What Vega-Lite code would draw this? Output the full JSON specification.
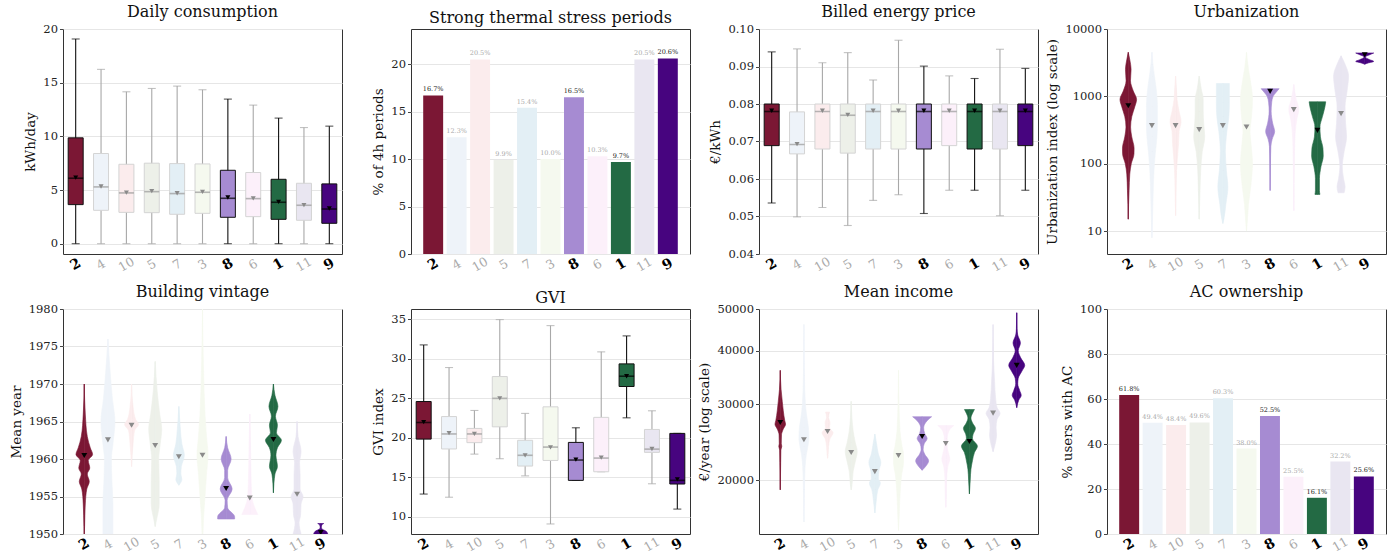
{
  "$schema": "https://vega.github.io/schema/vega-lite/v6.json",
  "autosize": {"type": "none"},
  "padding": {"left": 63, "top": 29, "right": 1332, "bottom": 528},
  "background": "white",
  "columns": 4,
  "spacing": {"row": 55, "column": 69},
  "bounds": "flush",
  "config": {
    "font": "DejaVu Serif",
    "view": {"stroke": "#333333", "strokeWidth": 1},
    "axis": {"labelFont": "DejaVu Serif", "titleFont": "DejaVu Serif", "labelFontSize": 11.5, "titleFontSize": 13.5, "titleFontWeight": "normal", "labelColor": "#222222", "titleColor": "#111111", "gridColor": "#e6e6e6", "tickColor": "#444444", "tickSize": 3.5, "domain": false, "labelPadding": 2, "titlePadding": 5},
    "axisX": {"grid": false, "ticks": false, "labelAngle": -30, "labelAlign": "center", "labelBaseline": "middle", "labelPadding": 10, "title": null},
    "axisY": {"grid": true},
    "title": {"fontSize": 16, "fontWeight": "normal", "font": "DejaVu Serif", "color": "#111111", "offset": 3, "baseline": "bottom"}
  },
  "datasets": {
    "daily": [
      {"cat": "2", "lo": 0, "q1": 3.64, "med": 6.1, "q3": 9.86, "hi": 19.07, "mean": 6.15},
      {"cat": "4", "lo": 0, "q1": 3.11, "med": 5.29, "q3": 8.4, "hi": 16.24, "mean": 5.33},
      {"cat": "10", "lo": 0, "q1": 2.92, "med": 4.73, "q3": 7.4, "hi": 14.15, "mean": 4.75},
      {"cat": "5", "lo": 0, "q1": 2.89, "med": 4.85, "q3": 7.5, "hi": 14.46, "mean": 4.9},
      {"cat": "7", "lo": 0, "q1": 2.74, "med": 4.67, "q3": 7.46, "hi": 14.68, "mean": 4.7},
      {"cat": "3", "lo": 0, "q1": 2.83, "med": 4.79, "q3": 7.43, "hi": 14.34, "mean": 4.82},
      {"cat": "8", "lo": 0, "q1": 2.46, "med": 4.23, "q3": 6.84, "hi": 13.47, "mean": 4.3},
      {"cat": "6", "lo": 0, "q1": 2.52, "med": 4.2, "q3": 6.63, "hi": 12.91, "mean": 4.22},
      {"cat": "1", "lo": 0, "q1": 2.27, "med": 3.86, "q3": 6.0, "hi": 11.7, "mean": 3.9},
      {"cat": "11", "lo": 0, "q1": 2.18, "med": 3.58, "q3": 5.63, "hi": 10.82, "mean": 3.6},
      {"cat": "9", "lo": 0, "q1": 1.9, "med": 3.23, "q3": 5.57, "hi": 10.95, "mean": 3.28}
    ],
    "price": [
      {"cat": "2", "lo": 0.0536, "q1": 0.0689, "med": 0.078, "q3": 0.08, "hi": 0.0939, "mean": 0.0782},
      {"cat": "4", "lo": 0.0499, "q1": 0.0667, "med": 0.0692, "q3": 0.0779, "hi": 0.0947, "mean": 0.0693},
      {"cat": "10", "lo": 0.0524, "q1": 0.068, "med": 0.078, "q3": 0.08, "hi": 0.091, "mean": 0.0782},
      {"cat": "5", "lo": 0.0476, "q1": 0.0669, "med": 0.077, "q3": 0.08, "hi": 0.0937, "mean": 0.0771},
      {"cat": "7", "lo": 0.0543, "q1": 0.068, "med": 0.078, "q3": 0.08, "hi": 0.0864, "mean": 0.0782},
      {"cat": "3", "lo": 0.0558, "q1": 0.068, "med": 0.078, "q3": 0.08, "hi": 0.097, "mean": 0.0782},
      {"cat": "8", "lo": 0.0508, "q1": 0.068, "med": 0.078, "q3": 0.08, "hi": 0.0901, "mean": 0.0782},
      {"cat": "6", "lo": 0.057, "q1": 0.0689, "med": 0.078, "q3": 0.08, "hi": 0.0875, "mean": 0.0782},
      {"cat": "1", "lo": 0.057, "q1": 0.068, "med": 0.078, "q3": 0.08, "hi": 0.0868, "mean": 0.0782},
      {"cat": "11", "lo": 0.0502, "q1": 0.068, "med": 0.078, "q3": 0.08, "hi": 0.0946, "mean": 0.0782},
      {"cat": "9", "lo": 0.057, "q1": 0.0689, "med": 0.078, "q3": 0.08, "hi": 0.0895, "mean": 0.0782}
    ],
    "gvi": [
      {"cat": "2", "lo": 12.9, "q1": 19.85, "med": 21.95, "q3": 24.6, "hi": 31.76, "mean": 22.0},
      {"cat": "4", "lo": 12.5, "q1": 18.6, "med": 20.5, "q3": 22.7, "hi": 28.9, "mean": 20.6},
      {"cat": "10", "lo": 17.95, "q1": 19.4, "med": 20.5, "q3": 21.2, "hi": 23.47, "mean": 20.5},
      {"cat": "5", "lo": 17.37, "q1": 21.4, "med": 25.0, "q3": 27.76, "hi": 34.96, "mean": 25.0},
      {"cat": "7", "lo": 15.2, "q1": 16.44, "med": 17.8, "q3": 19.7, "hi": 23.1, "mean": 17.8},
      {"cat": "3", "lo": 9.12, "q1": 17.15, "med": 18.84, "q3": 23.93, "hi": 34.2, "mean": 18.8},
      {"cat": "8", "lo": 14.63, "q1": 14.63, "med": 17.2, "q3": 19.43, "hi": 21.28, "mean": 17.25},
      {"cat": "6", "lo": 15.72, "q1": 15.72, "med": 17.45, "q3": 22.6, "hi": 30.88, "mean": 17.5},
      {"cat": "1", "lo": 22.54, "q1": 26.5, "med": 27.8, "q3": 29.36, "hi": 32.9, "mean": 27.8},
      {"cat": "11", "lo": 14.2, "q1": 18.17, "med": 18.58, "q3": 21.07, "hi": 23.43, "mean": 18.6},
      {"cat": "9", "lo": 11.0, "q1": 14.17, "med": 14.63, "q3": 20.57, "hi": 20.57, "mean": 14.75}
    ],
    "stress": [
      {"cat": "2", "v": 16.7}, {"cat": "4", "v": 12.3}, {"cat": "10", "v": 20.5}, {"cat": "5", "v": 9.9},
      {"cat": "7", "v": 15.4}, {"cat": "3", "v": 10.0}, {"cat": "8", "v": 16.5}, {"cat": "6", "v": 10.3},
      {"cat": "1", "v": 9.7}, {"cat": "11", "v": 20.5}, {"cat": "9", "v": 20.6}
    ],
    "ac": [
      {"cat": "2", "v": 61.8}, {"cat": "4", "v": 49.4}, {"cat": "10", "v": 48.4}, {"cat": "5", "v": 49.6},
      {"cat": "7", "v": 60.3}, {"cat": "3", "v": 38.0}, {"cat": "8", "v": 52.5}, {"cat": "6", "v": 25.5},
      {"cat": "1", "v": 16.1}, {"cat": "11", "v": 32.2}, {"cat": "9", "v": 25.6}
    ],
    "urb": [
      {"cat": "2", "y": 4500, "d": 0}, {"cat": "2", "y": 3500, "d": 1.5}, {"cat": "2", "y": 2500, "d": 2.8}, {"cat": "2", "y": 1700, "d": 2.2}, {"cat": "2", "y": 1200, "d": 5}, {"cat": "2", "y": 900, "d": 8.3}, {"cat": "2", "y": 700, "d": 6.5}, {"cat": "2", "y": 500, "d": 3.5}, {"cat": "2", "y": 350, "d": 2.3}, {"cat": "2", "y": 250, "d": 3.5}, {"cat": "2", "y": 170, "d": 5.8}, {"cat": "2", "y": 140, "d": 5.7}, {"cat": "2", "y": 100, "d": 3}, {"cat": "2", "y": 70, "d": 1.5}, {"cat": "2", "y": 40, "d": 0.8}, {"cat": "2", "y": 25, "d": 0.3}, {"cat": "2", "y": 15, "d": 0},
      {"cat": "4", "y": 4500, "d": 0}, {"cat": "4", "y": 3000, "d": 1}, {"cat": "4", "y": 2000, "d": 2.5}, {"cat": "4", "y": 1200, "d": 4.5}, {"cat": "4", "y": 700, "d": 5.5}, {"cat": "4", "y": 400, "d": 5.5}, {"cat": "4", "y": 250, "d": 5}, {"cat": "4", "y": 150, "d": 3.5}, {"cat": "4", "y": 100, "d": 2.5}, {"cat": "4", "y": 50, "d": 1.5}, {"cat": "4", "y": 20, "d": 0.8}, {"cat": "4", "y": 8, "d": 0},
      {"cat": "10", "y": 2000, "d": 0}, {"cat": "10", "y": 1200, "d": 1}, {"cat": "10", "y": 900, "d": 1.5}, {"cat": "10", "y": 600, "d": 3.5}, {"cat": "10", "y": 420, "d": 5.5}, {"cat": "10", "y": 300, "d": 3.5}, {"cat": "10", "y": 200, "d": 3}, {"cat": "10", "y": 130, "d": 2}, {"cat": "10", "y": 80, "d": 1}, {"cat": "10", "y": 40, "d": 0.5}, {"cat": "10", "y": 17, "d": 0},
      {"cat": "5", "y": 2000, "d": 0}, {"cat": "5", "y": 1300, "d": 2}, {"cat": "5", "y": 900, "d": 4}, {"cat": "5", "y": 600, "d": 4}, {"cat": "5", "y": 400, "d": 4.5}, {"cat": "5", "y": 250, "d": 5.5}, {"cat": "5", "y": 150, "d": 3}, {"cat": "5", "y": 80, "d": 1.5}, {"cat": "5", "y": 40, "d": 0.8}, {"cat": "5", "y": 15, "d": 0},
      {"cat": "7", "y": 1550, "d": 6.5}, {"cat": "7", "y": 800, "d": 6.5}, {"cat": "7", "y": 500, "d": 6}, {"cat": "7", "y": 300, "d": 4}, {"cat": "7", "y": 150, "d": 2.5}, {"cat": "7", "y": 80, "d": 3.5}, {"cat": "7", "y": 45, "d": 5}, {"cat": "7", "y": 25, "d": 3}, {"cat": "7", "y": 15, "d": 1}, {"cat": "7", "y": 13, "d": 0},
      {"cat": "3", "y": 4500, "d": 0}, {"cat": "3", "y": 2500, "d": 2}, {"cat": "3", "y": 1500, "d": 4.5}, {"cat": "3", "y": 900, "d": 6}, {"cat": "3", "y": 500, "d": 5}, {"cat": "3", "y": 300, "d": 3.5}, {"cat": "3", "y": 200, "d": 4.5}, {"cat": "3", "y": 100, "d": 6}, {"cat": "3", "y": 50, "d": 4.5}, {"cat": "3", "y": 25, "d": 2}, {"cat": "3", "y": 12, "d": 0.5}, {"cat": "3", "y": 10, "d": 0},
      {"cat": "8", "y": 1300, "d": 9}, {"cat": "8", "y": 1150, "d": 6}, {"cat": "8", "y": 1000, "d": 3}, {"cat": "8", "y": 800, "d": 1.5}, {"cat": "8", "y": 600, "d": 1}, {"cat": "8", "y": 400, "d": 2.5}, {"cat": "8", "y": 300, "d": 4.5}, {"cat": "8", "y": 230, "d": 2}, {"cat": "8", "y": 180, "d": 0.7}, {"cat": "8", "y": 100, "d": 0.3}, {"cat": "8", "y": 40, "d": 0},
      {"cat": "6", "y": 1500, "d": 0}, {"cat": "6", "y": 900, "d": 2.5}, {"cat": "6", "y": 650, "d": 5}, {"cat": "6", "y": 450, "d": 3}, {"cat": "6", "y": 300, "d": 1.5}, {"cat": "6", "y": 150, "d": 0.7}, {"cat": "6", "y": 50, "d": 0.3}, {"cat": "6", "y": 20, "d": 0},
      {"cat": "1", "y": 830, "d": 8.3}, {"cat": "1", "y": 700, "d": 7.5}, {"cat": "1", "y": 500, "d": 5}, {"cat": "1", "y": 350, "d": 2.5}, {"cat": "1", "y": 250, "d": 3}, {"cat": "1", "y": 170, "d": 5.5}, {"cat": "1", "y": 130, "d": 5.8}, {"cat": "1", "y": 90, "d": 3.5}, {"cat": "1", "y": 60, "d": 2}, {"cat": "1", "y": 40, "d": 2}, {"cat": "1", "y": 35, "d": 2.5},
      {"cat": "11", "y": 4000, "d": 0}, {"cat": "11", "y": 3000, "d": 4}, {"cat": "11", "y": 2000, "d": 7.5}, {"cat": "11", "y": 1200, "d": 6}, {"cat": "11", "y": 700, "d": 4}, {"cat": "11", "y": 400, "d": 4.5}, {"cat": "11", "y": 250, "d": 5.5}, {"cat": "11", "y": 150, "d": 3}, {"cat": "11", "y": 90, "d": 1.2}, {"cat": "11", "y": 60, "d": 2.5}, {"cat": "11", "y": 45, "d": 4}, {"cat": "11", "y": 37, "d": 3},
      {"cat": "9", "y": 4400, "d": 9}, {"cat": "9", "y": 4150, "d": 5}, {"cat": "9", "y": 3850, "d": 0.5}, {"cat": "9", "y": 3500, "d": 5}, {"cat": "9", "y": 3300, "d": 9}, {"cat": "9", "y": 3150, "d": 4}, {"cat": "9", "y": 3000, "d": 0}
    ],
    "urb_mean": [
      {"cat": "2", "m": 726}, {"cat": "4", "m": 367}, {"cat": "10", "m": 367}, {"cat": "5", "m": 320}, {"cat": "7", "m": 367}, {"cat": "3", "m": 351},
      {"cat": "8", "m": 1186}, {"cat": "6", "m": 634}, {"cat": "1", "m": 313}, {"cat": "11", "m": 553}, {"cat": "9", "m": 4150}
    ],
    "vint": [
      {"cat": "2", "y": 1970, "d": 0}, {"cat": "2", "y": 1966, "d": 1}, {"cat": "2", "y": 1963, "d": 3}, {"cat": "2", "y": 1961.5, "d": 6}, {"cat": "2", "y": 1960.6, "d": 8.3}, {"cat": "2", "y": 1959.8, "d": 4}, {"cat": "2", "y": 1958.8, "d": 5.5}, {"cat": "2", "y": 1958, "d": 3}, {"cat": "2", "y": 1957, "d": 5}, {"cat": "2", "y": 1956, "d": 2.5}, {"cat": "2", "y": 1954, "d": 1}, {"cat": "2", "y": 1951, "d": 0.3}, {"cat": "2", "y": 1950, "d": 0},
      {"cat": "4", "y": 1976, "d": 0}, {"cat": "4", "y": 1972, "d": 2}, {"cat": "4", "y": 1968, "d": 4.5}, {"cat": "4", "y": 1965, "d": 7}, {"cat": "4", "y": 1962, "d": 5}, {"cat": "4", "y": 1960, "d": 3.5}, {"cat": "4", "y": 1957, "d": 4}, {"cat": "4", "y": 1954, "d": 5}, {"cat": "4", "y": 1950, "d": 5},
      {"cat": "10", "y": 1970, "d": 0}, {"cat": "10", "y": 1967, "d": 1.5}, {"cat": "10", "y": 1965.3, "d": 4}, {"cat": "10", "y": 1964.6, "d": 7}, {"cat": "10", "y": 1963.8, "d": 3}, {"cat": "10", "y": 1962, "d": 1.5}, {"cat": "10", "y": 1959, "d": 0},
      {"cat": "5", "y": 1973, "d": 0}, {"cat": "5", "y": 1969, "d": 2}, {"cat": "5", "y": 1966, "d": 4.5}, {"cat": "5", "y": 1964, "d": 6.5}, {"cat": "5", "y": 1962, "d": 5}, {"cat": "5", "y": 1960, "d": 3.5}, {"cat": "5", "y": 1957, "d": 4}, {"cat": "5", "y": 1954, "d": 4}, {"cat": "5", "y": 1952, "d": 1.5}, {"cat": "5", "y": 1951, "d": 0},
      {"cat": "7", "y": 1967, "d": 0}, {"cat": "7", "y": 1964, "d": 1.5}, {"cat": "7", "y": 1962, "d": 3}, {"cat": "7", "y": 1960.5, "d": 5.5}, {"cat": "7", "y": 1959, "d": 2.5}, {"cat": "7", "y": 1958, "d": 2}, {"cat": "7", "y": 1957.3, "d": 3}, {"cat": "7", "y": 1956.5, "d": 0},
      {"cat": "3", "y": 1980, "d": 0}, {"cat": "3", "y": 1972, "d": 1}, {"cat": "3", "y": 1966, "d": 2.5}, {"cat": "3", "y": 1963, "d": 4}, {"cat": "3", "y": 1960.5, "d": 5.5}, {"cat": "3", "y": 1958, "d": 4}, {"cat": "3", "y": 1955, "d": 2.5}, {"cat": "3", "y": 1952, "d": 1}, {"cat": "3", "y": 1950, "d": 0.5},
      {"cat": "8", "y": 1963, "d": 0}, {"cat": "8", "y": 1961.5, "d": 1.5}, {"cat": "8", "y": 1960, "d": 5}, {"cat": "8", "y": 1958.5, "d": 1.5}, {"cat": "8", "y": 1957.5, "d": 1.5}, {"cat": "8", "y": 1956, "d": 6}, {"cat": "8", "y": 1954.5, "d": 1}, {"cat": "8", "y": 1953.5, "d": 1.5}, {"cat": "8", "y": 1952.3, "d": 8.5}, {"cat": "8", "y": 1952, "d": 8.5},
      {"cat": "6", "y": 1966, "d": 0}, {"cat": "6", "y": 1962, "d": 0.7}, {"cat": "6", "y": 1958, "d": 1.2}, {"cat": "6", "y": 1955, "d": 2}, {"cat": "6", "y": 1953.5, "d": 5}, {"cat": "6", "y": 1952.6, "d": 8},
      {"cat": "1", "y": 1970, "d": 0}, {"cat": "1", "y": 1968.5, "d": 1.5}, {"cat": "1", "y": 1967, "d": 4.5}, {"cat": "1", "y": 1965.7, "d": 2}, {"cat": "1", "y": 1964.5, "d": 4}, {"cat": "1", "y": 1963.5, "d": 3}, {"cat": "1", "y": 1962.5, "d": 8}, {"cat": "1", "y": 1961.5, "d": 4}, {"cat": "1", "y": 1960.5, "d": 2.5}, {"cat": "1", "y": 1959, "d": 4}, {"cat": "1", "y": 1958, "d": 1.5}, {"cat": "1", "y": 1955.5, "d": 0},
      {"cat": "11", "y": 1965, "d": 0}, {"cat": "11", "y": 1963, "d": 1}, {"cat": "11", "y": 1961, "d": 4}, {"cat": "11", "y": 1959.5, "d": 2.5}, {"cat": "11", "y": 1958, "d": 3}, {"cat": "11", "y": 1956, "d": 3}, {"cat": "11", "y": 1955, "d": 6}, {"cat": "11", "y": 1954, "d": 4}, {"cat": "11", "y": 1952.5, "d": 3.5}, {"cat": "11", "y": 1951.5, "d": 2}, {"cat": "11", "y": 1950, "d": 4},
      {"cat": "9", "y": 1951.4, "d": 3}, {"cat": "9", "y": 1951.2, "d": 1}, {"cat": "9", "y": 1950.8, "d": 0.5}, {"cat": "9", "y": 1950.3, "d": 6}, {"cat": "9", "y": 1950, "d": 7}
    ],
    "vint_mean": [
      {"cat": "2", "m": 1960.46}, {"cat": "4", "m": 1962.55}, {"cat": "10", "m": 1964.5}, {"cat": "5", "m": 1961.8}, {"cat": "7", "m": 1960.3}, {"cat": "3", "m": 1960.5},
      {"cat": "8", "m": 1956.06}, {"cat": "6", "m": 1954.8}, {"cat": "1", "m": 1962.6}, {"cat": "11", "m": 1955.3}, {"cat": "9", "m": 1950.2}
    ],
    "inc": [
      {"cat": "2", "y": 36000, "d": 0}, {"cat": "2", "y": 32500, "d": 0.8}, {"cat": "2", "y": 30500, "d": 2}, {"cat": "2", "y": 29000, "d": 3}, {"cat": "2", "y": 27500, "d": 4.5}, {"cat": "2", "y": 27000, "d": 5.3}, {"cat": "2", "y": 26300, "d": 3}, {"cat": "2", "y": 25500, "d": 1.2}, {"cat": "2", "y": 24300, "d": 1}, {"cat": "2", "y": 24000, "d": 1.5}, {"cat": "2", "y": 23500, "d": 0.6}, {"cat": "2", "y": 22000, "d": 0.4}, {"cat": "2", "y": 19000, "d": 0},
      {"cat": "4", "y": 46000, "d": 0}, {"cat": "4", "y": 35000, "d": 0.5}, {"cat": "4", "y": 30000, "d": 1.5}, {"cat": "4", "y": 28000, "d": 3}, {"cat": "4", "y": 26500, "d": 4.5}, {"cat": "4", "y": 25000, "d": 5}, {"cat": "4", "y": 24000, "d": 4}, {"cat": "4", "y": 23000, "d": 2.5}, {"cat": "4", "y": 21500, "d": 1.2}, {"cat": "4", "y": 19000, "d": 0.5}, {"cat": "4", "y": 16000, "d": 0},
      {"cat": "10", "y": 28800, "d": 2}, {"cat": "10", "y": 28000, "d": 1}, {"cat": "10", "y": 27200, "d": 2.5}, {"cat": "10", "y": 26500, "d": 2}, {"cat": "10", "y": 25800, "d": 5.5}, {"cat": "10", "y": 25000, "d": 2.5}, {"cat": "10", "y": 24000, "d": 1}, {"cat": "10", "y": 23000, "d": 0.5}, {"cat": "10", "y": 22500, "d": 0},
      {"cat": "5", "y": 30500, "d": 0}, {"cat": "5", "y": 28000, "d": 0.7}, {"cat": "5", "y": 26000, "d": 2}, {"cat": "5", "y": 24500, "d": 4}, {"cat": "5", "y": 23300, "d": 6}, {"cat": "5", "y": 22300, "d": 4.5}, {"cat": "5", "y": 21000, "d": 2}, {"cat": "5", "y": 19500, "d": 0.8}, {"cat": "5", "y": 19000, "d": 0},
      {"cat": "7", "y": 25600, "d": 0}, {"cat": "7", "y": 24500, "d": 1.5}, {"cat": "7", "y": 23000, "d": 3.5}, {"cat": "7", "y": 22000, "d": 6}, {"cat": "7", "y": 21000, "d": 4}, {"cat": "7", "y": 20200, "d": 3.5}, {"cat": "7", "y": 19700, "d": 5.5}, {"cat": "7", "y": 19000, "d": 3}, {"cat": "7", "y": 18000, "d": 1.5}, {"cat": "7", "y": 16800, "d": 0},
      {"cat": "3", "y": 36000, "d": 0}, {"cat": "3", "y": 30000, "d": 0.5}, {"cat": "3", "y": 26000, "d": 1.5}, {"cat": "3", "y": 24000, "d": 3.5}, {"cat": "3", "y": 23000, "d": 5}, {"cat": "3", "y": 22000, "d": 5}, {"cat": "3", "y": 20500, "d": 3}, {"cat": "3", "y": 18500, "d": 1.5}, {"cat": "3", "y": 16500, "d": 0.7}, {"cat": "3", "y": 15300, "d": 0},
      {"cat": "8", "y": 28100, "d": 9.5}, {"cat": "8", "y": 27500, "d": 5}, {"cat": "8", "y": 26500, "d": 1.5}, {"cat": "8", "y": 25700, "d": 2.5}, {"cat": "8", "y": 25000, "d": 5}, {"cat": "8", "y": 24300, "d": 2}, {"cat": "8", "y": 23600, "d": 1}, {"cat": "8", "y": 23000, "d": 2.5}, {"cat": "8", "y": 22200, "d": 6.5}, {"cat": "8", "y": 21600, "d": 4}, {"cat": "8", "y": 21100, "d": 0},
      {"cat": "6", "y": 26800, "d": 8}, {"cat": "6", "y": 26000, "d": 3}, {"cat": "6", "y": 25000, "d": 1.5}, {"cat": "6", "y": 24000, "d": 1.5}, {"cat": "6", "y": 23000, "d": 3}, {"cat": "6", "y": 22400, "d": 4}, {"cat": "6", "y": 21500, "d": 2}, {"cat": "6", "y": 20000, "d": 0.8}, {"cat": "6", "y": 18000, "d": 0.4}, {"cat": "6", "y": 17300, "d": 0},
      {"cat": "1", "y": 29200, "d": 5}, {"cat": "1", "y": 28600, "d": 3}, {"cat": "1", "y": 27900, "d": 1.5}, {"cat": "1", "y": 27200, "d": 3}, {"cat": "1", "y": 26400, "d": 6}, {"cat": "1", "y": 25500, "d": 3.5}, {"cat": "1", "y": 25000, "d": 3}, {"cat": "1", "y": 24000, "d": 8}, {"cat": "1", "y": 23200, "d": 5}, {"cat": "1", "y": 22200, "d": 3}, {"cat": "1", "y": 21200, "d": 1.5}, {"cat": "1", "y": 20000, "d": 0.8}, {"cat": "1", "y": 18600, "d": 0},
      {"cat": "11", "y": 46000, "d": 0}, {"cat": "11", "y": 38000, "d": 0.5}, {"cat": "11", "y": 34000, "d": 1.5}, {"cat": "11", "y": 31000, "d": 2.5}, {"cat": "11", "y": 29500, "d": 4}, {"cat": "11", "y": 28600, "d": 7}, {"cat": "11", "y": 27700, "d": 4}, {"cat": "11", "y": 26500, "d": 3}, {"cat": "11", "y": 25500, "d": 3.5}, {"cat": "11", "y": 24500, "d": 2.5}, {"cat": "11", "y": 23300, "d": 0},
      {"cat": "9", "y": 49000, "d": 0}, {"cat": "9", "y": 45000, "d": 0.3}, {"cat": "9", "y": 43500, "d": 1}, {"cat": "9", "y": 41700, "d": 3.7}, {"cat": "9", "y": 40000, "d": 1.5}, {"cat": "9", "y": 38500, "d": 4}, {"cat": "9", "y": 37000, "d": 8}, {"cat": "9", "y": 35800, "d": 5}, {"cat": "9", "y": 34500, "d": 1.5}, {"cat": "9", "y": 33500, "d": 1}, {"cat": "9", "y": 32300, "d": 3}, {"cat": "9", "y": 31500, "d": 4.5}, {"cat": "9", "y": 30700, "d": 2}, {"cat": "9", "y": 29500, "d": 0}
    ],
    "inc_mean": [
      {"cat": "2", "m": 27240}, {"cat": "4", "m": 24830}, {"cat": "10", "m": 25960}, {"cat": "5", "m": 23200}, {"cat": "7", "m": 20950}, {"cat": "3", "m": 22830},
      {"cat": "8", "m": 25270}, {"cat": "6", "m": 24340}, {"cat": "1", "m": 24600}, {"cat": "11", "m": 28640}, {"cat": "9", "m": 36980}
    ]
  },
  "concat": [
    {
      "title": "Daily consumption",
      "width": 279, "height": 225,
      "data": {"name": "daily"},
      "encoding": {
        "x": {"field": "cat", "type": "nominal", "sort": ["2","4","10","5","7","3","8","6","1","11","9"], "scale": {"paddingInner": 0, "paddingOuter": 0},
          "axis": {"labelFontWeight": {"condition": {"test": "indexof(['2','8','1','9'], datum.value) >= 0", "value": "bold"}, "value": "normal"}, "labelColor": {"condition": {"test": "indexof(['2','8','1','9'], datum.value) >= 0", "value": "#000000"}, "value": "#aaaaaa"}, "labelFontSize": {"condition": {"test": "indexof(['2','8','1','9'], datum.value) >= 0", "value": 14}, "value": 12.5}}}
      },
      "layer": [
        {"mark": {"type": "rule", "strokeWidth": 1.1}, "encoding": {"y": {"field": "lo", "type": "quantitative", "scale": {"domain": [-0.96, 20], "nice": false, "zero": false}, "axis": {"title": "kWh/day", "values": [0, 5, 10, 15, 20], "format": "d"}}, "y2": {"field": "hi"}, "color": {"condition": {"test": "indexof(['2','8','1','9'], datum.cat) >= 0", "value": "#111111"}, "value": "#a8a8a8"}}},
        {"mark": {"type": "tick", "orient": "horizontal", "size": 8, "thickness": 1.1}, "encoding": {"y": {"field": "lo", "type": "quantitative", "axis": {"title": "kWh/day", "values": [0, 5, 10, 15, 20], "format": "d"}}, "color": {"condition": {"test": "indexof(['2','8','1','9'], datum.cat) >= 0", "value": "#111111"}, "value": "#a8a8a8"}}},
        {"mark": {"type": "tick", "orient": "horizontal", "size": 8, "thickness": 1.1}, "encoding": {"y": {"field": "hi", "type": "quantitative", "axis": {"title": "kWh/day", "values": [0, 5, 10, 15, 20], "format": "d"}}, "color": {"condition": {"test": "indexof(['2','8','1','9'], datum.cat) >= 0", "value": "#111111"}, "value": "#a8a8a8"}}},
        {"mark": {"type": "bar", "width": 15, "strokeWidth": 1}, "encoding": {"y": {"field": "q1", "type": "quantitative", "axis": {"title": "kWh/day", "values": [0, 5, 10, 15, 20], "format": "d"}}, "y2": {"field": "q3"}, "fill": {"field": "cat", "type": "nominal", "legend": null, "scale": {"domain": ["2","4","10","5","7","3","8","6","1","11","9"], "range": ["#7b1734","#eef3f9","#fbeced","#edf0e9","#e3eff5","#f5f9ef","#a68bd2","#fcf0fa","#236a44","#e9e6f1","#47047f"]}}, "stroke": {"condition": {"test": "indexof(['2','8','1','9'], datum.cat) >= 0", "value": "#111111"}, "value": "#d4d4d4"}}},
        {"mark": {"type": "tick", "orient": "horizontal", "size": 15, "thickness": 1.6}, "encoding": {"y": {"field": "med", "type": "quantitative", "axis": {"title": "kWh/day", "values": [0, 5, 10, 15, 20], "format": "d"}}, "color": {"condition": {"test": "indexof(['2','8','1','9'], datum.cat) >= 0", "value": "#000000"}, "value": "#999999"}}},
        {"mark": {"type": "point", "shape": "triangle-down", "filled": true, "size": 25, "opacity": 1}, "encoding": {"y": {"field": "mean", "type": "quantitative", "axis": {"title": "kWh/day", "values": [0, 5, 10, 15, 20], "format": "d"}}, "color": {"condition": {"test": "indexof(['2','8','1','9'], datum.cat) >= 0", "value": "#000000"}, "value": "#8a8a8a"}}}
      ]
    },
    {
      "title": "Strong thermal stress periods",
      "width": 279, "height": 225,
      "data": {"name": "stress"},
      "encoding": {
        "x": {"field": "cat", "type": "nominal", "sort": ["2","4","10","5","7","3","8","6","1","11","9"], "scale": {"paddingInner": 0.15, "paddingOuter": 0.52},
          "axis": {"labelFontWeight": {"condition": {"test": "indexof(['2','8','1','9'], datum.value) >= 0", "value": "bold"}, "value": "normal"}, "labelColor": {"condition": {"test": "indexof(['2','8','1','9'], datum.value) >= 0", "value": "#000000"}, "value": "#aaaaaa"}, "labelFontSize": {"condition": {"test": "indexof(['2','8','1','9'], datum.value) >= 0", "value": 14}, "value": 12.5}}},
        "y": {"field": "v", "type": "quantitative", "scale": {"domain": [0, 23.7], "nice": false}, "axis": {"title": "% of 4h periods", "values": [0, 5, 10, 15, 20], "format": "d"}}
      },
      "layer": [
        {"mark": {"type": "bar"}, "encoding": {"fill": {"field": "cat", "type": "nominal", "legend": null, "scale": {"domain": ["2","4","10","5","7","3","8","6","1","11","9"], "range": ["#7b1734","#eef3f9","#fbeced","#edf0e9","#e3eff5","#f5f9ef","#a68bd2","#fcf0fa","#236a44","#e9e6f1","#47047f"]}}}},
        {"mark": {"type": "text", "dy": -3, "baseline": "bottom", "fontSize": 6.5, "text": {"expr": "format(datum.v, '.1f') + '%'"}}, "encoding": {"color": {"condition": {"test": "indexof(['2','8','1','9'], datum.cat) >= 0", "value": "#222222"}, "value": "#aaaaaa"}}}
      ]
    },
    {
      "title": "Billed energy price",
      "width": 279, "height": 225,
      "data": {"name": "price"},
      "encoding": {
        "x": {"field": "cat", "type": "nominal", "sort": ["2","4","10","5","7","3","8","6","1","11","9"], "scale": {"paddingInner": 0, "paddingOuter": 0},
          "axis": {"labelFontWeight": {"condition": {"test": "indexof(['2','8','1','9'], datum.value) >= 0", "value": "bold"}, "value": "normal"}, "labelColor": {"condition": {"test": "indexof(['2','8','1','9'], datum.value) >= 0", "value": "#000000"}, "value": "#aaaaaa"}, "labelFontSize": {"condition": {"test": "indexof(['2','8','1','9'], datum.value) >= 0", "value": 14}, "value": 12.5}}}
      },
      "layer": [
        {"mark": {"type": "rule", "strokeWidth": 1.1}, "encoding": {"y": {"field": "lo", "type": "quantitative", "scale": {"domain": [0.04, 0.10], "nice": false, "zero": false}, "axis": {"title": "€/kWh", "values": [0.04, 0.05, 0.06, 0.07, 0.08, 0.09, 0.10], "format": ".2f"}}, "y2": {"field": "hi"}, "color": {"condition": {"test": "indexof(['2','8','1','9'], datum.cat) >= 0", "value": "#111111"}, "value": "#a8a8a8"}}},
        {"mark": {"type": "tick", "orient": "horizontal", "size": 8, "thickness": 1.1}, "encoding": {"y": {"field": "lo", "type": "quantitative", "axis": {"title": "€/kWh", "values": [0.04, 0.05, 0.06, 0.07, 0.08, 0.09, 0.10], "format": ".2f"}}, "color": {"condition": {"test": "indexof(['2','8','1','9'], datum.cat) >= 0", "value": "#111111"}, "value": "#a8a8a8"}}},
        {"mark": {"type": "tick", "orient": "horizontal", "size": 8, "thickness": 1.1}, "encoding": {"y": {"field": "hi", "type": "quantitative", "axis": {"title": "€/kWh", "values": [0.04, 0.05, 0.06, 0.07, 0.08, 0.09, 0.10], "format": ".2f"}}, "color": {"condition": {"test": "indexof(['2','8','1','9'], datum.cat) >= 0", "value": "#111111"}, "value": "#a8a8a8"}}},
        {"mark": {"type": "bar", "width": 15, "strokeWidth": 1}, "encoding": {"y": {"field": "q1", "type": "quantitative", "axis": {"title": "€/kWh", "values": [0.04, 0.05, 0.06, 0.07, 0.08, 0.09, 0.10], "format": ".2f"}}, "y2": {"field": "q3"}, "fill": {"field": "cat", "type": "nominal", "legend": null, "scale": {"domain": ["2","4","10","5","7","3","8","6","1","11","9"], "range": ["#7b1734","#eef3f9","#fbeced","#edf0e9","#e3eff5","#f5f9ef","#a68bd2","#fcf0fa","#236a44","#e9e6f1","#47047f"]}}, "stroke": {"condition": {"test": "indexof(['2','8','1','9'], datum.cat) >= 0", "value": "#111111"}, "value": "#d4d4d4"}}},
        {"mark": {"type": "tick", "orient": "horizontal", "size": 15, "thickness": 1.6}, "encoding": {"y": {"field": "med", "type": "quantitative", "axis": {"title": "€/kWh", "values": [0.04, 0.05, 0.06, 0.07, 0.08, 0.09, 0.10], "format": ".2f"}}, "color": {"condition": {"test": "indexof(['2','8','1','9'], datum.cat) >= 0", "value": "#000000"}, "value": "#999999"}}},
        {"mark": {"type": "point", "shape": "triangle-down", "filled": true, "size": 25, "opacity": 1}, "encoding": {"y": {"field": "mean", "type": "quantitative", "axis": {"title": "€/kWh", "values": [0.04, 0.05, 0.06, 0.07, 0.08, 0.09, 0.10], "format": ".2f"}}, "color": {"condition": {"test": "indexof(['2','8','1','9'], datum.cat) >= 0", "value": "#000000"}, "value": "#8a8a8a"}}}
      ]
    },
    {
      "title": "Urbanization",
      "width": 279, "height": 225,
      "data": {"name": "urb"},
      "encoding": {
        "x": {"field": "cat", "type": "nominal", "sort": ["2","4","10","5","7","3","8","6","1","11","9"], "scale": {"paddingInner": 0, "paddingOuter": 0.4},
          "axis": {"labelFontWeight": {"condition": {"test": "indexof(['2','8','1','9'], datum.value) >= 0", "value": "bold"}, "value": "normal"}, "labelColor": {"condition": {"test": "indexof(['2','8','1','9'], datum.value) >= 0", "value": "#000000"}, "value": "#aaaaaa"}, "labelFontSize": {"condition": {"test": "indexof(['2','8','1','9'], datum.value) >= 0", "value": 14}, "value": 12.5}}}
      },
      "resolve": {"scale": {"xOffset": "independent"}},
      "layer": [
        {"mark": {"type": "area", "orient": "horizontal", "interpolate": "monotone", "strokeWidth": 0.6, "clip": true},
         "encoding": {"y": {"field": "y", "type": "quantitative", "stack": null, "scale": {"type": "log", "domain": [4.56, 10000], "nice": false}, "axis": {"title": "Urbanization index (log scale)", "values": [10, 100, 1000, 10000], "format": "d"}},
           "x2": {"field": "cat", "bandPosition": 0.5},
           "xOffset": {"field": "d", "type": "quantitative", "scale": {"domain": [0, 10], "range": [11.822, 21.822]}},
           "fill": {"field": "cat", "type": "nominal", "legend": null, "scale": {"domain": ["2","4","10","5","7","3","8","6","1","11","9"], "range": ["#7b1734","#eef3f9","#fbeced","#edf0e9","#e3eff5","#f5f9ef","#a68bd2","#fcf0fa","#236a44","#e9e6f1","#47047f"]}},
           "stroke": {"field": "cat", "type": "nominal", "legend": null, "scale": {"domain": ["2","4","10","5","7","3","8","6","1","11","9"], "range": ["#7b1734","#eef3f9","#fbeced","#edf0e9","#e3eff5","#f5f9ef","#a68bd2","#fcf0fa","#236a44","#e9e6f1","#47047f"]}}}},
        {"mark": {"type": "area", "orient": "horizontal", "interpolate": "monotone", "strokeWidth": 0.6, "clip": true},
         "encoding": {"y": {"field": "y", "type": "quantitative", "stack": null, "axis": {"title": "Urbanization index (log scale)", "values": [10, 100, 1000, 10000], "format": "d"}},
           "x2": {"field": "cat", "bandPosition": 0.5},
           "xOffset": {"field": "d", "type": "quantitative", "scale": {"domain": [0, 10], "range": [11.822, 1.822]}},
           "fill": {"field": "cat", "type": "nominal", "legend": null},
           "stroke": {"field": "cat", "type": "nominal", "legend": null}}},
        {"data": {"name": "urb_mean"}, "mark": {"type": "point", "shape": "triangle-down", "filled": true, "size": 35, "opacity": 1},
         "encoding": {"y": {"field": "m", "type": "quantitative", "axis": {"title": "Urbanization index (log scale)", "values": [10, 100, 1000, 10000], "format": "d"}}, "color": {"condition": {"test": "indexof(['2','8','1','9'], datum.cat) >= 0", "value": "#000000"}, "value": "#8a8a8a"}}}
      ]
    },
    {
      "title": "Building vintage",
      "width": 279, "height": 225,
      "data": {"name": "vint"},
      "encoding": {
        "x": {"field": "cat", "type": "nominal", "sort": ["2","4","10","5","7","3","8","6","1","11","9"], "scale": {"paddingInner": 0, "paddingOuter": 0.4},
          "axis": {"labelFontWeight": {"condition": {"test": "indexof(['2','8','1','9'], datum.value) >= 0", "value": "bold"}, "value": "normal"}, "labelColor": {"condition": {"test": "indexof(['2','8','1','9'], datum.value) >= 0", "value": "#000000"}, "value": "#aaaaaa"}, "labelFontSize": {"condition": {"test": "indexof(['2','8','1','9'], datum.value) >= 0", "value": 14}, "value": 12.5}}}
      },
      "resolve": {"scale": {"xOffset": "independent"}},
      "layer": [
        {"mark": {"type": "area", "orient": "horizontal", "interpolate": "monotone", "strokeWidth": 0.6, "clip": true},
         "encoding": {"y": {"field": "y", "type": "quantitative", "stack": null, "scale": {"domain": [1950, 1980], "nice": false, "zero": false}, "axis": {"title": "Mean year", "values": [1950, 1955, 1960, 1965, 1970, 1975, 1980], "format": "d"}},
           "x2": {"field": "cat", "bandPosition": 0.5},
           "xOffset": {"field": "d", "type": "quantitative", "scale": {"domain": [0, 10], "range": [11.822, 21.822]}},
           "fill": {"field": "cat", "type": "nominal", "legend": null, "scale": {"domain": ["2","4","10","5","7","3","8","6","1","11","9"], "range": ["#7b1734","#eef3f9","#fbeced","#edf0e9","#e3eff5","#f5f9ef","#a68bd2","#fcf0fa","#236a44","#e9e6f1","#47047f"]}},
           "stroke": {"field": "cat", "type": "nominal", "legend": null, "scale": {"domain": ["2","4","10","5","7","3","8","6","1","11","9"], "range": ["#7b1734","#eef3f9","#fbeced","#edf0e9","#e3eff5","#f5f9ef","#a68bd2","#fcf0fa","#236a44","#e9e6f1","#47047f"]}}}},
        {"mark": {"type": "area", "orient": "horizontal", "interpolate": "monotone", "strokeWidth": 0.6, "clip": true},
         "encoding": {"y": {"field": "y", "type": "quantitative", "stack": null, "axis": {"title": "Mean year", "values": [1950, 1955, 1960, 1965, 1970, 1975, 1980], "format": "d"}},
           "x2": {"field": "cat", "bandPosition": 0.5},
           "xOffset": {"field": "d", "type": "quantitative", "scale": {"domain": [0, 10], "range": [11.822, 1.822]}},
           "fill": {"field": "cat", "type": "nominal", "legend": null},
           "stroke": {"field": "cat", "type": "nominal", "legend": null}}},
        {"data": {"name": "vint_mean"}, "mark": {"type": "point", "shape": "triangle-down", "filled": true, "size": 35, "opacity": 1, "clip": true},
         "encoding": {"y": {"field": "m", "type": "quantitative", "axis": {"title": "Mean year", "values": [1950, 1955, 1960, 1965, 1970, 1975, 1980], "format": "d"}}, "color": {"condition": {"test": "indexof(['2','8','1','9'], datum.cat) >= 0", "value": "#000000"}, "value": "#8a8a8a"}}}
      ]
    },
    {
      "title": "GVI",
      "width": 279, "height": 225,
      "data": {"name": "gvi"},
      "encoding": {
        "x": {"field": "cat", "type": "nominal", "sort": ["2","4","10","5","7","3","8","6","1","11","9"], "scale": {"paddingInner": 0, "paddingOuter": 0},
          "axis": {"labelFontWeight": {"condition": {"test": "indexof(['2','8','1','9'], datum.value) >= 0", "value": "bold"}, "value": "normal"}, "labelColor": {"condition": {"test": "indexof(['2','8','1','9'], datum.value) >= 0", "value": "#000000"}, "value": "#aaaaaa"}, "labelFontSize": {"condition": {"test": "indexof(['2','8','1','9'], datum.value) >= 0", "value": 14}, "value": 12.5}}}
      },
      "layer": [
        {"mark": {"type": "rule", "strokeWidth": 1.1}, "encoding": {"y": {"field": "lo", "type": "quantitative", "scale": {"domain": [7.85, 36.3], "nice": false, "zero": false}, "axis": {"title": "GVI index", "values": [10, 15, 20, 25, 30, 35], "format": "d"}}, "y2": {"field": "hi"}, "color": {"condition": {"test": "indexof(['2','8','1','9'], datum.cat) >= 0", "value": "#111111"}, "value": "#a8a8a8"}}},
        {"mark": {"type": "tick", "orient": "horizontal", "size": 8, "thickness": 1.1}, "encoding": {"y": {"field": "lo", "type": "quantitative", "axis": {"title": "GVI index", "values": [10, 15, 20, 25, 30, 35], "format": "d"}}, "color": {"condition": {"test": "indexof(['2','8','1','9'], datum.cat) >= 0", "value": "#111111"}, "value": "#a8a8a8"}}},
        {"mark": {"type": "tick", "orient": "horizontal", "size": 8, "thickness": 1.1}, "encoding": {"y": {"field": "hi", "type": "quantitative", "axis": {"title": "GVI index", "values": [10, 15, 20, 25, 30, 35], "format": "d"}}, "color": {"condition": {"test": "indexof(['2','8','1','9'], datum.cat) >= 0", "value": "#111111"}, "value": "#a8a8a8"}}},
        {"mark": {"type": "bar", "width": 15, "strokeWidth": 1}, "encoding": {"y": {"field": "q1", "type": "quantitative", "axis": {"title": "GVI index", "values": [10, 15, 20, 25, 30, 35], "format": "d"}}, "y2": {"field": "q3"}, "fill": {"field": "cat", "type": "nominal", "legend": null, "scale": {"domain": ["2","4","10","5","7","3","8","6","1","11","9"], "range": ["#7b1734","#eef3f9","#fbeced","#edf0e9","#e3eff5","#f5f9ef","#a68bd2","#fcf0fa","#236a44","#e9e6f1","#47047f"]}}, "stroke": {"condition": {"test": "indexof(['2','8','1','9'], datum.cat) >= 0", "value": "#111111"}, "value": "#d4d4d4"}}},
        {"mark": {"type": "tick", "orient": "horizontal", "size": 15, "thickness": 1.6}, "encoding": {"y": {"field": "med", "type": "quantitative", "axis": {"title": "GVI index", "values": [10, 15, 20, 25, 30, 35], "format": "d"}}, "color": {"condition": {"test": "indexof(['2','8','1','9'], datum.cat) >= 0", "value": "#000000"}, "value": "#999999"}}},
        {"mark": {"type": "point", "shape": "triangle-down", "filled": true, "size": 25, "opacity": 1}, "encoding": {"y": {"field": "mean", "type": "quantitative", "axis": {"title": "GVI index", "values": [10, 15, 20, 25, 30, 35], "format": "d"}}, "color": {"condition": {"test": "indexof(['2','8','1','9'], datum.cat) >= 0", "value": "#000000"}, "value": "#8a8a8a"}}}
      ]
    },
    {
      "title": "Mean income",
      "width": 279, "height": 225,
      "data": {"name": "inc"},
      "encoding": {
        "x": {"field": "cat", "type": "nominal", "sort": ["2","4","10","5","7","3","8","6","1","11","9"], "scale": {"paddingInner": 0, "paddingOuter": 0.4},
          "axis": {"labelFontWeight": {"condition": {"test": "indexof(['2','8','1','9'], datum.value) >= 0", "value": "bold"}, "value": "normal"}, "labelColor": {"condition": {"test": "indexof(['2','8','1','9'], datum.value) >= 0", "value": "#000000"}, "value": "#aaaaaa"}, "labelFontSize": {"condition": {"test": "indexof(['2','8','1','9'], datum.value) >= 0", "value": 14}, "value": 12.5}}}
      },
      "resolve": {"scale": {"xOffset": "independent"}},
      "layer": [
        {"mark": {"type": "area", "orient": "horizontal", "interpolate": "monotone", "strokeWidth": 0.6, "clip": true},
         "encoding": {"y": {"field": "y", "type": "quantitative", "stack": null, "scale": {"type": "log", "domain": [15000, 50000], "nice": false}, "axis": {"title": "€/year (log scale)", "values": [20000, 30000, 40000, 50000], "format": "d"}},
           "x2": {"field": "cat", "bandPosition": 0.5},
           "xOffset": {"field": "d", "type": "quantitative", "scale": {"domain": [0, 10], "range": [11.822, 21.822]}},
           "fill": {"field": "cat", "type": "nominal", "legend": null, "scale": {"domain": ["2","4","10","5","7","3","8","6","1","11","9"], "range": ["#7b1734","#eef3f9","#fbeced","#edf0e9","#e3eff5","#f5f9ef","#a68bd2","#fcf0fa","#236a44","#e9e6f1","#47047f"]}},
           "stroke": {"field": "cat", "type": "nominal", "legend": null, "scale": {"domain": ["2","4","10","5","7","3","8","6","1","11","9"], "range": ["#7b1734","#eef3f9","#fbeced","#edf0e9","#e3eff5","#f5f9ef","#a68bd2","#fcf0fa","#236a44","#e9e6f1","#47047f"]}}}},
        {"mark": {"type": "area", "orient": "horizontal", "interpolate": "monotone", "strokeWidth": 0.6, "clip": true},
         "encoding": {"y": {"field": "y", "type": "quantitative", "stack": null, "axis": {"title": "€/year (log scale)", "values": [20000, 30000, 40000, 50000], "format": "d"}},
           "x2": {"field": "cat", "bandPosition": 0.5},
           "xOffset": {"field": "d", "type": "quantitative", "scale": {"domain": [0, 10], "range": [11.822, 1.822]}},
           "fill": {"field": "cat", "type": "nominal", "legend": null},
           "stroke": {"field": "cat", "type": "nominal", "legend": null}}},
        {"data": {"name": "inc_mean"}, "mark": {"type": "point", "shape": "triangle-down", "filled": true, "size": 35, "opacity": 1},
         "encoding": {"y": {"field": "m", "type": "quantitative", "axis": {"title": "€/year (log scale)", "values": [20000, 30000, 40000, 50000], "format": "d"}}, "color": {"condition": {"test": "indexof(['2','8','1','9'], datum.cat) >= 0", "value": "#000000"}, "value": "#8a8a8a"}}}
      ]
    },
    {
      "title": "AC ownership",
      "width": 279, "height": 225,
      "data": {"name": "ac"},
      "encoding": {
        "x": {"field": "cat", "type": "nominal", "sort": ["2","4","10","5","7","3","8","6","1","11","9"], "scale": {"paddingInner": 0.15, "paddingOuter": 0.52},
          "axis": {"labelFontWeight": {"condition": {"test": "indexof(['2','8','1','9'], datum.value) >= 0", "value": "bold"}, "value": "normal"}, "labelColor": {"condition": {"test": "indexof(['2','8','1','9'], datum.value) >= 0", "value": "#000000"}, "value": "#aaaaaa"}, "labelFontSize": {"condition": {"test": "indexof(['2','8','1','9'], datum.value) >= 0", "value": 14}, "value": 12.5}}},
        "y": {"field": "v", "type": "quantitative", "scale": {"domain": [0, 100], "nice": false}, "axis": {"title": "% users with AC", "values": [0, 20, 40, 60, 80, 100], "format": "d"}}
      },
      "layer": [
        {"mark": {"type": "bar"}, "encoding": {"fill": {"field": "cat", "type": "nominal", "legend": null, "scale": {"domain": ["2","4","10","5","7","3","8","6","1","11","9"], "range": ["#7b1734","#eef3f9","#fbeced","#edf0e9","#e3eff5","#f5f9ef","#a68bd2","#fcf0fa","#236a44","#e9e6f1","#47047f"]}}}},
        {"mark": {"type": "text", "dy": -3, "baseline": "bottom", "fontSize": 6.5, "text": {"expr": "format(datum.v, '.1f') + '%'"}}, "encoding": {"color": {"condition": {"test": "indexof(['2','8','1','9'], datum.cat) >= 0", "value": "#222222"}, "value": "#aaaaaa"}}}
      ]
    }
  ]
}
